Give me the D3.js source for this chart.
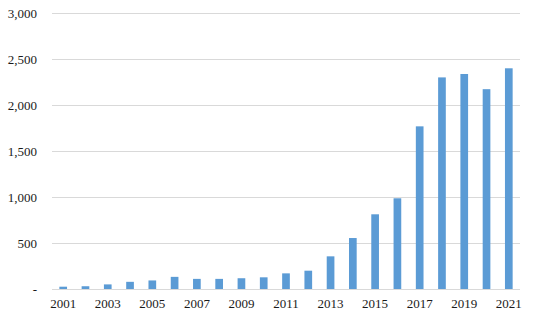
<!DOCTYPE html>
<html>
<head>
<meta charset="utf-8">
<script src="https://cdn.jsdelivr.net/npm/d3@7"></script>
<style>
  body { margin: 0; background: #fff; }
</style>
</head>
<body>
<div class="chart-container"></div>
<script>
var years = ['2001', '2002', '2003', '2004', '2005', '2006', '2007', '2008', '2009', '2010', '2011',
  '2012', '2013', '2014', '2015', '2016', '2017', '2018', '2019', '2020', '2021'];
var counts = [25, 30, 50, 78, 93, 132, 110, 110, 117, 127, 170,
  199, 355, 554, 812, 986, 1768, 2300, 2337, 2172, 2399];
var yTicks = [0, 500, 1000, 1500, 2000, 2500, 3000];

var margin = {top: 13, right: 33, bottom: 32, left: 52};
var width = 553 - margin.left - margin.right;
var height = 321 - margin.top - margin.bottom;
var font = '"Liberation Serif", "Times New Roman", serif';

var data = years.map((y, i) => ({year: y, value: counts[i]}));

var x = d3.scaleBand()
  .domain(years)
  .range([margin.left, margin.left + width])
  .paddingInner(0.655)
  .paddingOuter(0.33);

var y = d3.scaleLinear()
  .domain([0, 3000])
  .range([margin.top + height, margin.top]);

var svg = d3.select('.chart-container').append('svg')
  .attr('width', 553)
  .attr('height', 321);

// gridlines
svg.append('g')
  .selectAll('line')
  .data(yTicks)
  .enter().append('line')
    .attr('x1', margin.left)
    .attr('x2', margin.left + width)
    .attr('y1', d => Math.round(y(d)) + 0.5)
    .attr('y2', d => Math.round(y(d)) + 0.5)
    .attr('stroke', '#d9d9d9')
    .attr('stroke-width', 1);

var yAxis = d3.axisLeft(y)
  .tickValues(yTicks)
  .tickSize(0)
  .tickPadding(15)
  .tickFormat(d => d === 0 ? '-' : d3.format(',')(d));

svg.append('g')
  .attr('transform', `translate(${margin.left},0)`)
  .call(yAxis)
  .attr('font-family', font)
  .attr('font-size', 13)
  .call(g => g.select('.domain').remove())
  .selectAll('text')
    .attr('fill', '#1a1a1a');

var xAxis = d3.axisBottom(x)
  .tickValues(years.filter((d, i) => i % 2 === 0))
  .tickSize(0)
  .tickPadding(10);

svg.append('g')
  .attr('transform', `translate(0, ${margin.top + height})`)
  .call(xAxis)
  .attr('font-family', font)
  .attr('font-size', 13)
  .call(g => g.select('.domain').remove())
  .selectAll('text')
    .attr('fill', '#1a1a1a');

svg.append('g')
  .selectAll('rect')
  .data(data)
  .enter().append('rect')
    .attr('x', d => x(d.year))
    .attr('width', x.bandwidth())
    .attr('y', d => y(d.value))
    .attr('height', d => y(0) - y(d.value))
    .attr('fill', '#5b9bd5');
</script>
</body>
</html>
